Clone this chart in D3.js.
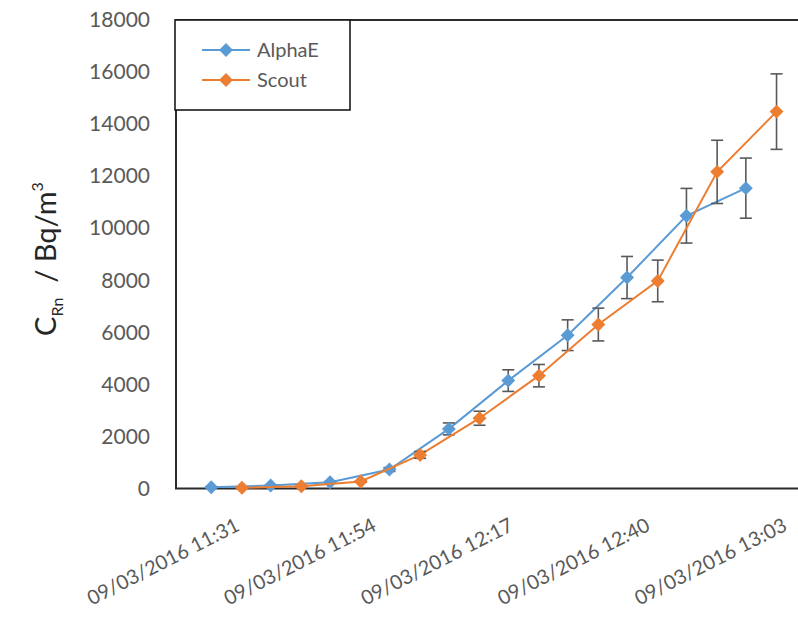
<!DOCTYPE html>
<html>
<head>
<meta charset="utf-8">
<script src="https://cdn.jsdelivr.net/npm/d3@7"></script>
<style>
  html, body { margin: 0; padding: 0; background: #ffffff; }
  svg { display: block; font-family: Lato, "Open Sans", sans-serif; }
</style>
</head>
<body>
<svg id="chart" width="798" height="622"></svg>
<script>
// ---------------- data ----------------
const dateStr = "2016-03-09";
const alphaTimes = ["11:26:30","11:36:30","11:46:30","11:56:30","12:06:30","12:16:30","12:26:30","12:36:30","12:46:30","12:56:30"];
const alphaValues = [50, 115, 240, 730, 2290, 4145, 5890, 8105, 10480, 11540];
const alphaErr = [5, 12, 24, 73, 229, 415, 590, 810, 1050, 1155];
const scoutTimes = ["11:31:40","11:41:40","11:51:40","12:01:40","12:11:40","12:21:40","12:31:40","12:41:40","12:51:40","13:01:40"];
const scoutValues = [27, 88, 270, 1290, 2700, 4335, 6300, 7975, 12165, 14480];
const scoutErr = [3, 9, 27, 130, 270, 430, 630, 800, 1215, 1450];
const xTickTimes = ["11:31:12","11:54:14","12:17:17","12:40:19","13:03:22"];
const yTicks = [0, 2000, 4000, 6000, 8000, 10000, 12000, 14000, 16000, 18000];
const seriesNames = ["AlphaE", "Scout"];
const seriesColors = ["#5B9BD5", "#ED7D31"];

// ---------------- layout ----------------
const parseT = s => new Date(dateStr + "T" + s);
const plotLeft = 176, plotTop = 20, plotBottom = 488.5;
const pxPerMin = 5.94;
const tStart = parseT("11:20:34"), tEnd = parseT("13:26:00");
const x = d3.scaleTime()
  .domain([tStart, tEnd])
  .range([plotLeft, plotLeft + (tEnd - tStart) / 60000 * pxPerMin]);
const y = d3.scaleLinear().domain([0, 18000]).range([plotBottom, plotTop]);

const svg = d3.select("#chart");

// plot frame
svg.append("rect")
  .attr("x", plotLeft).attr("y", plotTop)
  .attr("width", x.range()[1] - plotLeft).attr("height", plotBottom - plotTop)
  .attr("fill", "none").attr("stroke", "#2b2b2b").attr("stroke-width", 2);

// y axis
const yAxis = svg.append("g")
  .attr("transform", `translate(${plotLeft},0)`)
  .call(d3.axisLeft(y).tickValues(yTicks).tickSize(0).tickPadding(26).tickFormat(d3.format("d")));
yAxis.select(".domain").remove();
yAxis.selectAll("text").attr("font-size", 21).attr("fill", "#595959")
  .attr("font-family", "Lato, 'Open Sans', sans-serif");

// x axis
const fmt = d3.timeFormat("%d/%m/%Y %H:%M");
const xAxis = svg.append("g")
  .attr("transform", `translate(0,${plotBottom})`)
  .call(d3.axisBottom(x).tickValues(xTickTimes.map(parseT)).tickSize(0).tickFormat(fmt));
xAxis.select(".domain").remove();
xAxis.selectAll(".tick text")
  .attr("font-size", 20).attr("fill", "#595959")
  .attr("font-family", "Lato, 'Open Sans', sans-serif")
  .attr("text-anchor", "end")
  .attr("x", 0).attr("y", 0).attr("dy", "0.35em")
  .attr("transform", "translate(-2,35) rotate(-27)");

// y axis title
const title = svg.append("text")
  .attr("transform", "translate(56,259) rotate(-90)")
  .attr("text-anchor", "middle")
  .attr("font-size", 29).attr("fill", "#262626")
  .attr("font-family", "Lato, 'Open Sans', sans-serif");
title.append("tspan").text("C");
title.append("tspan").attr("font-size", 16).attr("dy", 7).text("Rn");
title.append("tspan").attr("dy", -7).text("\u00A0\u00A0/ Bq/m");
title.append("tspan").attr("font-size", 16).attr("dy", -13).text("3");

// series
function drawSeries(times, values, errs, color) {
  const pts = times.map((t, i) => ({ t: parseT(t), v: values[i], e: errs[i] }));
  const g = svg.append("g");
  g.append("path").datum(pts)
    .attr("fill", "none").attr("stroke", color).attr("stroke-width", 2)
    .attr("d", d3.line().x(d => x(d.t)).y(d => y(d.v)));
  const eb = g.selectAll(".eb").data(pts).enter().append("g");
  eb.append("line")
    .attr("x1", d => x(d.t)).attr("x2", d => x(d.t))
    .attr("y1", d => y(d.v + d.e)).attr("y2", d => y(d.v - d.e))
    .attr("stroke", "#595959").attr("stroke-width", 1.6);
  [1, -1].forEach(s => {
    eb.append("line")
      .attr("x1", d => x(d.t) - 6).attr("x2", d => x(d.t) + 6)
      .attr("y1", d => y(d.v + s * d.e)).attr("y2", d => y(d.v + s * d.e))
      .attr("stroke", "#595959").attr("stroke-width", 1.6);
  });
  g.selectAll(".mk").data(pts).enter().append("path")
    .attr("transform", d => `translate(${x(d.t)},${y(d.v)}) rotate(45)`)
    .attr("d", d3.symbol().type(d3.symbolSquare).size(78))
    .attr("fill", color).attr("stroke", color).attr("stroke-width", 1);
}
drawSeries(alphaTimes, alphaValues, alphaErr, seriesColors[0]);
drawSeries(scoutTimes, scoutValues, scoutErr, seriesColors[1]);

// legend
const lg = svg.append("g");
lg.append("rect").attr("x", 175).attr("y", 20).attr("width", 175).attr("height", 90)
  .attr("fill", "#ffffff").attr("stroke", "#1a1a1a").attr("stroke-width", 1.6);
seriesNames.forEach((name, i) => {
  const ly = 50 + i * 30;
  lg.append("line").attr("x1", 202).attr("x2", 250).attr("y1", ly).attr("y2", ly)
    .attr("stroke", seriesColors[i]).attr("stroke-width", 2);
  lg.append("path").attr("transform", `translate(226,${ly}) rotate(45)`)
    .attr("d", d3.symbol().type(d3.symbolSquare).size(78))
    .attr("fill", seriesColors[i]).attr("stroke", seriesColors[i]).attr("stroke-width", 1);
  lg.append("text").attr("x", 257).attr("y", ly).attr("dy", "0.35em")
    .attr("font-size", 20).attr("fill", "#595959")
    .attr("font-family", "Lato, 'Open Sans', sans-serif")
    .text(name);
});
</script>
</body>
</html>
